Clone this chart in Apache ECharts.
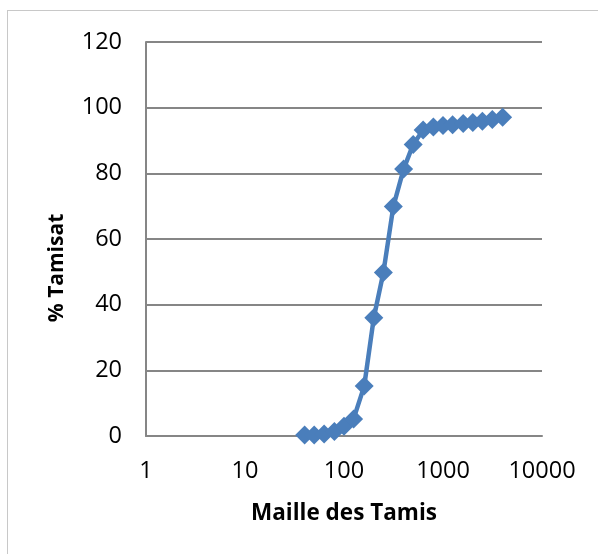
<!DOCTYPE html>
<html>
<head>
<meta charset="utf-8">
<script src="https://cdn.jsdelivr.net/npm/echarts@6/dist/echarts.min.js"></script>
<style>
  html, body { margin: 0; padding: 0; background: #fff; }
  #frame {
    position: absolute; left: 7px; top: 10px;
    width: 700px; height: 700px;
    border: 1px solid #c8c8c8;
  }
  #chart { position: absolute; left: 0; top: 0; width: 598px; height: 554px; }
</style>
</head>
<body>
<div id="frame"></div>
<div id="chart"></div>
<script>
// maille des tamis (µm) et % tamisat
const mailles = [40, 50, 63, 80, 100, 125, 160, 200, 250, 315, 400, 500, 630, 800, 1000, 1250, 1600, 2000, 2500, 3150, 4000];
const tamisat = [0.3, 0.3, 0.6, 1.4, 3, 5.2, 15.2, 36, 49.8, 69.9, 81.3, 88.8, 93.2, 94.1, 94.6, 94.8, 95.2, 95.5, 95.9, 96.4, 97.1];
const yTicks = [0, 20, 40, 60, 80, 100, 120];

const font = '"Open Sans", sans-serif';
const chart = echarts.init(document.getElementById('chart'));
chart.setOption({
  animation: false,
  grid: { left: 146, top: 42, width: 396, height: 394, containLabel: false },
  graphic: [{
    type: 'text',
    x: 57,
    y: 268,
    rotation: Math.PI / 2,
    style: {
      text: '% Tamisat',
      font: 'bold 21px "Open Sans", sans-serif',
      fill: '#000',
      align: 'center',
      verticalAlign: 'middle'
    }
  }],
  xAxis: {
    type: 'log',
    logBase: 10,
    min: 1,
    max: 10000,
    name: 'Maille des Tamis',
    nameLocation: 'middle',
    nameGap: 66,
    nameTextStyle: { fontFamily: font, fontWeight: 'bold', fontSize: 22.5, color: '#000' },
    axisLine: { lineStyle: { color: '#868686', width: 2 } },
    axisTick: { show: false },
    splitLine: { show: false },
    minorTick: { show: false },
    axisLabel: { fontFamily: font, fontSize: 23.5, color: '#000', margin: 23, formatter: v => String(Math.round(v)) }
  },
  yAxis: {
    type: 'value',
    min: yTicks[0],
    max: yTicks[yTicks.length - 1],
    interval: 20,
    axisLine: { show: true, lineStyle: { color: '#868686', width: 2 } },
    axisTick: { show: false },
    splitLine: { lineStyle: { color: '#868686', width: 2 } },
    axisLabel: { fontFamily: font, fontSize: 23.5, color: '#000', margin: 24 }
  },
  series: [{
    type: 'line',
    data: mailles.map((m, i) => [m, tamisat[i]]),
    symbol: 'diamond',
    symbolSize: 19,
    itemStyle: { color: '#4A7EBB' },
    lineStyle: { color: '#4A7EBB', width: 4.5 }
  }]
});
</script>
</body>
</html>
